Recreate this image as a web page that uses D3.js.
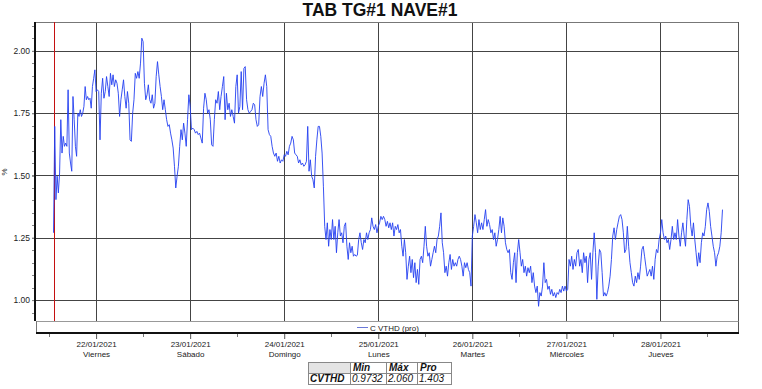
<!DOCTYPE html>
<html>
<head>
<meta charset="utf-8">
<script src="https://cdn.jsdelivr.net/npm/d3@7"></script>
<style>
  body { margin: 0; background: #fff; }
  svg { display: block; font-family: Arial, "Liberation Sans", sans-serif; }
</style>
</head>
<body>
<div id="chart"></div>
<script>
// CVTHD readings (%), one array per day, samples evenly spaced inside each day
var day21 = [1.27, 1.697, 1.403, 1.497, 1.43, 1.51, 1.724, 1.59, 1.657, 1.617, 1.63, 1.617, 1.844, 1.59, 1.55, 1.517, 1.817, 1.724, 1.617, 1.577, 1.75, 1.737, 1.764, 1.737, 1.75, 1.777, 1.857, 1.804, 1.817, 1.804, 1.81, 1.77, 1.857, 1.89, 1.924];
var day22 = [1.837, 1.844, 1.837, 1.643, 1.83, 1.89, 1.81, 1.837, 1.897, 1.857, 1.817, 1.91, 1.864, 1.904, 1.857, 1.884, 1.87, 1.83, 1.737, 1.804, 1.844, 1.884, 1.817, 1.77, 1.837, 1.79, 1.643, 1.637, 1.75, 1.804, 1.91, 1.89, 1.917, 1.89, 1.951, 2.051, 2.037, 1.87, 1.804, 1.824, 1.864, 1.804, 1.79, 1.824, 1.77, 1.79, 1.897, 1.957, 1.904, 1.857, 1.817, 1.764, 1.804, 1.764, 1.724, 1.697, 1.704, 1.67, 1.643, 1.61, 1.537, 1.45, 1.497, 1.537, 1.617, 1.684, 1.643, 1.71, 1.67, 1.617, 1.724, 1.824];
var day23 = [1.777, 1.684, 1.69, 1.684, 1.67, 1.677, 1.664, 1.67, 1.65, 1.63, 1.77, 1.83, 1.804, 1.75, 1.764, 1.724, 1.623, 1.617, 1.724, 1.804, 1.79, 1.837, 1.764, 1.817, 1.857, 1.897, 1.724, 1.83, 1.764, 1.79, 1.737, 1.764, 1.737, 1.71, 1.857, 1.904, 1.75, 1.777, 1.917, 1.764, 1.93, 1.937, 1.804, 1.764, 1.75, 1.757, 1.764, 1.79, 1.784, 1.724, 1.697, 1.704, 1.817, 1.857, 1.817, 1.87, 1.904, 1.857, 1.684, 1.664, 1.657, 1.617, 1.59, 1.577, 1.59, 1.557, 1.577, 1.55, 1.563, 1.557];
var day24 = [1.583, 1.577, 1.597, 1.583, 1.617, 1.63, 1.657, 1.643, 1.59, 1.583, 1.577, 1.55, 1.563, 1.543, 1.55, 1.537, 1.543, 1.557, 1.697, 1.517, 1.563, 1.497, 1.483, 1.45, 1.577, 1.643, 1.697, 1.697, 1.657, 1.59, 1.457, 1.296, 1.243, 1.31, 1.216, 1.283, 1.243, 1.323, 1.243, 1.296, 1.19, 1.27, 1.323, 1.257, 1.27, 1.23, 1.296, 1.31, 1.216, 1.163, 1.23, 1.19, 1.216, 1.176, 1.183, 1.176, 1.18, 1.243, 1.27, 1.23, 1.203, 1.243, 1.23, 1.27, 1.243, 1.27, 1.283, 1.33, 1.296, 1.283, 1.303, 1.27];
var day25 = [1.296, 1.31, 1.336, 1.323, 1.336, 1.323, 1.296, 1.316, 1.29, 1.31, 1.283, 1.31, 1.257, 1.296, 1.283, 1.303, 1.27, 1.283, 1.216, 1.176, 1.243, 1.19, 1.083, 1.136, 1.176, 1.11, 1.163, 1.09, 1.15, 1.07, 1.123, 1.063, 1.163, 1.176, 1.15, 1.216, 1.296, 1.216, 1.176, 1.19, 1.136, 1.163, 1.19, 1.216, 1.19, 1.243, 1.257, 1.296, 1.35, 1.23, 1.19, 1.11, 1.136, 1.096, 1.15, 1.183, 1.123, 1.163, 1.136, 1.15, 1.136, 1.163, 1.176, 1.163, 1.136, 1.096, 1.15, 1.13, 1.15, 1.123, 1.11, 1.056];
var day26 = [1.257, 1.296, 1.343, 1.31, 1.27, 1.323, 1.283, 1.31, 1.283, 1.323, 1.363, 1.296, 1.323, 1.303, 1.27, 1.283, 1.243, 1.27, 1.216, 1.243, 1.283, 1.336, 1.27, 1.33, 1.296, 1.23, 1.203, 1.19, 1.203, 1.11, 1.083, 1.15, 1.19, 1.07, 1.19, 1.243, 1.19, 1.136, 1.163, 1.11, 1.136, 1.096, 1.13, 1.11, 1.136, 1.07, 1.11, 1.056, 1.03, 1.056, 0.975, 1.03, 1.016, 1.056, 1.15, 1.07, 1.083, 1.043, 1.056, 1.023, 1.043, 1.016, 1.03, 1.01, 1.03, 1.023, 1.043, 1.03, 1.056, 1.036, 1.056];
var day27 = [1.036, 1.043, 1.163, 1.136, 1.176, 1.123, 1.163, 1.136, 1.19, 1.203, 1.136, 1.163, 1.11, 1.19, 1.15, 1.176, 1.07, 1.163, 1.19, 1.083, 1.19, 1.27, 1.19, 1.003, 1.136, 1.203, 1.19, 1.11, 1.016, 1.03, 1.016, 1.03, 1.056, 1.096, 1.163, 1.257, 1.29, 1.243, 1.283, 1.31, 1.336, 1.343, 1.323, 1.27, 1.19, 1.203, 1.296, 1.216, 1.15, 1.11, 1.07, 1.056, 1.096, 1.07, 1.11, 1.083, 1.136, 1.203, 1.216, 1.176, 1.136, 1.096, 1.11, 1.123, 1.096, 1.136, 1.083, 1.163, 1.203, 1.19, 1.243];
var day28 = [1.27, 1.323, 1.27, 1.243, 1.257, 1.23, 1.243, 1.203, 1.243, 1.296, 1.243, 1.27, 1.243, 1.323, 1.257, 1.216, 1.27, 1.31, 1.257, 1.216, 1.323, 1.403, 1.376, 1.296, 1.257, 1.31, 1.243, 1.19, 1.136, 1.19, 1.15, 1.23, 1.27, 1.257, 1.296, 1.363, 1.39, 1.356, 1.296, 1.257, 1.216, 1.19, 1.136, 1.176, 1.19, 1.216, 1.27, 1.363];

var dayNames = ["Viernes", "Sábado", "Domingo", "Lunes", "Martes", "Miércoles", "Jueves"];
var yTickValues = [1.00, 1.25, 1.50, 1.75, 2.00];
var statNames = ["Min", "Máx", "Pro"];
var statValues = ["0.9732", "2.060", "1.403"];
var seriesName = "CVTHD";
var legendLabel = "C VTHD (pro)";
var chartTitle = "TAB TG#1 NAVE#1";

(function() {
  var width = 762, height = 389
  var plot = { left: 36, right: 738.5, top: 22, bottom: 321 }

  var svg = d3.select("#chart")
    .append("svg")
    .attr("width", width)
    .attr("height", height)
    .style("background", "#fff")

  var startTime = new Date(2021, 0, 21, 13, 8)
  var endTime = new Date(2021, 0, 28, 15, 50)

  var xPositionScale = d3.scaleTime()
    .domain([new Date(2021, 0, 21, 8, 40), new Date(2021, 0, 28, 19, 55)])
    .range([plot.left, plot.right])

  var yPositionScale = d3.scaleLinear()
    .domain([0.916, 2.116])
    .range([plot.bottom, plot.top])

  /* build the time series out of the per-day arrays */
  var days = [day21, day22, day23, day24, day25, day26, day27, day28]
  var series = []
  days.forEach(function(vals, i) {
    var dayStart = new Date(2021, 0, 21 + i)
    var from = i === 0 ? startTime : dayStart
    var last = i === days.length - 1
    var to = last ? endTime : d3.timeDay.offset(dayStart, 1)
    var n = last ? vals.length - 1 : vals.length
    vals.forEach(function(v, k) {
      series.push({ t: new Date(+from + (to - from) * k / n), v: v })
    })
  })

  var dayTicks = d3.timeDay.range(new Date(2021, 0, 22), new Date(2021, 0, 29))
  var halfDayTicks = d3.timeHour.every(12).range(new Date(2021, 0, 21, 12), new Date(2021, 0, 28, 13))
  var crisp = function(v) { return Math.round(v) + 0.5 }

  /* title */
  svg.append("text")
    .attr("x", 380)
    .attr("y", 16)
    .attr("text-anchor", "middle")
    .style("font-size", "17.5px")
    .style("font-weight", "bold")
    .attr("fill", "#111")
    .text(chartTitle)

  /* grid */
  svg.selectAll(".hgrid")
    .data(yTickValues)
    .enter().append("line")
    .attr("class", "hgrid")
    .attr("x1", plot.left)
    .attr("x2", plot.right)
    .attr("y1", function(d) { return crisp(yPositionScale(d)) })
    .attr("y2", function(d) { return crisp(yPositionScale(d)) })
    .attr("stroke", "#444")
    .attr("stroke-width", 1)

  svg.selectAll(".vgrid")
    .data(dayTicks)
    .enter().append("line")
    .attr("class", "vgrid")
    .attr("x1", function(d) { return crisp(xPositionScale(d)) })
    .attr("x2", function(d) { return crisp(xPositionScale(d)) })
    .attr("y1", plot.top)
    .attr("y2", plot.bottom)
    .attr("stroke", "#444")
    .attr("stroke-width", 1)

  /* frame: top, right, legend strip, bottom axis */
  svg.append("line")
    .attr("x1", plot.left).attr("x2", plot.right)
    .attr("y1", plot.top + 0.5).attr("y2", plot.top + 0.5)
    .attr("stroke", "#777")
  svg.append("line")
    .attr("x1", plot.right).attr("x2", plot.right)
    .attr("y1", plot.top).attr("y2", 334)
    .attr("stroke", "#555")
  svg.append("line")
    .attr("x1", plot.left).attr("x2", plot.right)
    .attr("y1", plot.bottom + 0.5).attr("y2", plot.bottom + 0.5)
    .attr("stroke", "#999")
  svg.append("line")
    .attr("x1", plot.left + 0.5).attr("x2", plot.left + 0.5)
    .attr("y1", plot.bottom).attr("y2", 333)
    .attr("stroke", "#777")
  svg.append("line")
    .attr("x1", plot.left).attr("x2", plot.right + 0.5)
    .attr("y1", 333).attr("y2", 333)
    .attr("stroke", "#111")
    .attr("stroke-width", 2)

  /* start marker */
  svg.append("line")
    .attr("x1", crisp(xPositionScale(startTime)))
    .attr("x2", crisp(xPositionScale(startTime)))
    .attr("y1", plot.top)
    .attr("y2", plot.bottom)
    .attr("stroke", "#c41010")
    .attr("stroke-width", 1)

  /* the series */
  var line = d3.line()
    .x(function(d) { return xPositionScale(d.t) })
    .y(function(d) { return yPositionScale(d.v) })

  svg.append("path")
    .datum(series)
    .attr("d", line)
    .attr("fill", "none")
    .attr("stroke", "#2440f0")
    .attr("stroke-width", 0.9)
    .attr("stroke-linejoin", "round")

  /* y axis */
  var yAxis = d3.axisLeft(yPositionScale)
    .tickValues(yTickValues)
    .tickFormat(d3.format(".2f"))
    .tickSize(3)
    .tickPadding(2)

  var yAxisG = svg.append("g")
    .attr("class", "axis y-axis")
    .attr("transform", "translate(" + (plot.left - 1) + ",0)")
    .call(yAxis)
  yAxisG.select(".domain").remove()
  yAxisG.selectAll("text")
    .style("font-size", "8.5px")
    .attr("fill", "#222")
  yAxisG.selectAll("line").attr("stroke", "#333")

  var yMinor = d3.range(0.95, 2.11, 0.05)
  svg.selectAll(".yminor")
    .data(yMinor)
    .enter().append("line")
    .attr("class", "yminor")
    .attr("x1", plot.left - 4)
    .attr("x2", plot.left - 2)
    .attr("y1", function(d) { return crisp(yPositionScale(d)) })
    .attr("y2", function(d) { return crisp(yPositionScale(d)) })
    .attr("stroke", "#888")

  svg.append("line")
    .attr("x1", plot.left - 1).attr("x2", plot.left - 1)
    .attr("y1", plot.top).attr("y2", plot.bottom)
    .attr("stroke", "#111")
    .attr("stroke-width", 2)

  svg.append("text")
    .attr("transform", "translate(7,172) rotate(-90)")
    .attr("text-anchor", "middle")
    .style("font-size", "8px")
    .attr("fill", "#222")
    .text("%")

  /* x axis: date + weekday */
  var xAxis = d3.axisBottom(xPositionScale)
    .tickValues(dayTicks)
    .tickSize(5)
    .tickFormat(d3.timeFormat("%d/%m/%Y"))

  var xAxisG = svg.append("g")
    .attr("class", "axis x-axis")
    .attr("transform", "translate(0,334)")
    .call(xAxis)
  xAxisG.select(".domain").remove()
  xAxisG.selectAll("line").attr("stroke", "#555")
  xAxisG.selectAll("text")
    .attr("y", 0)
    .attr("dy", null)
    .style("font-size", "8px")
    .attr("fill", "#222")
    .each(function(d, i) {
      var t = d3.select(this)
      var label = t.text()
      t.text(null)
      t.append("tspan").attr("x", 0).attr("y", 13).text(label)
      t.append("tspan").attr("x", 0).attr("y", 23).text(dayNames[i])
    })

  svg.selectAll(".xminor")
    .data(halfDayTicks.filter(function(d) { return d.getHours() === 12 }))
    .enter().append("line")
    .attr("class", "xminor")
    .attr("x1", function(d) { return crisp(xPositionScale(d)) })
    .attr("x2", function(d) { return crisp(xPositionScale(d)) })
    .attr("y1", 334)
    .attr("y2", 337)
    .attr("stroke", "#777")

  /* legend */
  svg.append("line")
    .attr("x1", 357).attr("x2", 368)
    .attr("y1", 327.5).attr("y2", 327.5)
    .attr("stroke", "#6a78d8")
  svg.append("text")
    .attr("x", 370)
    .attr("y", 330.5)
    .style("font-size", "8px")
    .attr("fill", "#222")
    .text(legendLabel)

  /* stats table */
  var colX = [308, 350, 386, 417, 451]
  var rowY = [362, 373, 384]
  var table = svg.append("g").attr("class", "stats")

  table.append("rect")
    .attr("x", colX[0]).attr("y", rowY[0])
    .attr("width", colX[1] - colX[0]).attr("height", rowY[1] - rowY[0])
    .attr("fill", "#e4e4e4")

  table.append("rect")
    .attr("x", colX[0] + 0.5).attr("y", rowY[0] + 0.5)
    .attr("width", colX[4] - colX[0]).attr("height", rowY[2] - rowY[0])
    .attr("fill", "none")
    .attr("stroke", "#888")

  table.append("line")
    .attr("x1", colX[0]).attr("x2", colX[4])
    .attr("y1", rowY[1] + 0.5).attr("y2", rowY[1] + 0.5)
    .attr("stroke", "#888")

  table.selectAll(".colsep")
    .data(colX.slice(1, 4))
    .enter().append("line")
    .attr("class", "colsep")
    .attr("x1", function(d) { return d + 0.5 })
    .attr("x2", function(d) { return d + 0.5 })
    .attr("y1", rowY[0]).attr("y2", rowY[2])
    .attr("stroke", "#888")

  table.selectAll(".head")
    .data(statNames)
    .enter().append("text")
    .attr("class", "head")
    .attr("x", function(d, i) { return colX[i + 1] + 3 })
    .attr("y", rowY[1] - 2)
    .style("font-size", "10px")
    .style("font-weight", "bold")
    .style("font-style", "italic")
    .attr("fill", "#111")
    .text(function(d) { return d })

  table.append("text")
    .attr("x", colX[0] + 2)
    .attr("y", rowY[2] - 2)
    .style("font-size", "10px")
    .style("font-weight", "bold")
    .style("font-style", "italic")
    .attr("fill", "#111")
    .text(seriesName)

  table.selectAll(".val")
    .data(statValues)
    .enter().append("text")
    .attr("class", "val")
    .attr("x", function(d, i) { return colX[i + 1] + 2 })
    .attr("y", rowY[2] - 2)
    .style("font-size", "10px")
    .style("font-style", "italic")
    .attr("fill", "#111")
    .text(function(d) { return d })
})();
</script>
</body>
</html>
